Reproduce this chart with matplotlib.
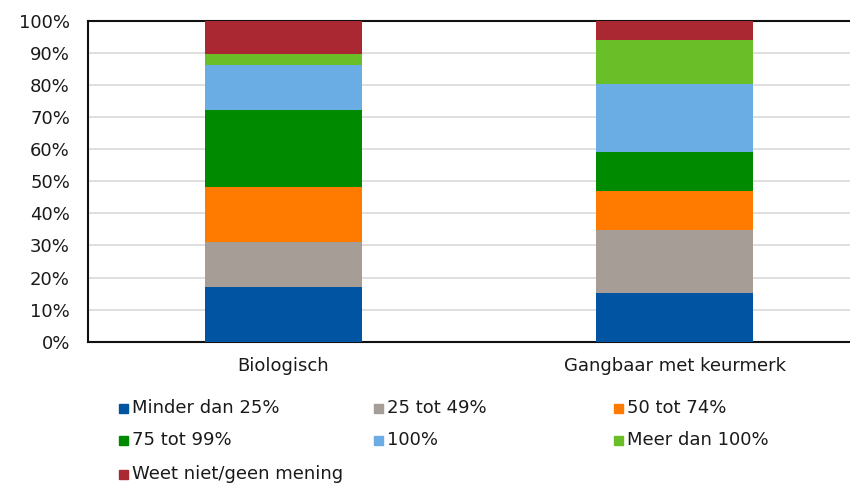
import matplotlib
matplotlib.use("Agg")
import matplotlib.pyplot as plt
import matplotlib.ticker as mtick
from matplotlib.patches import Rectangle

categories = ['Biologisch', 'Gangbaar met keurmerk']
series = ['Minder dan 25%', '25 tot 49%', '50 tot 74%', '75 tot 99%',
          '100%', 'Meer dan 100%', 'Weet niet/geen mening']
# share per answer, in %, one list per category
biologisch = [17.1, 13.9, 17.3, 24.0, 14.0, 3.4, 10.3]
gangbaar = [15.1, 19.8, 12.1, 12.1, 21.3, 13.7, 5.9]
colors = ['#0054A1', '#A59D96', '#FF7B00', '#008A00', '#6AADE4', '#6ABE28', '#AA2832']

plt.rcParams['font.family'] = ['DejaVu Sans']
fig = plt.figure(figsize=(8.5, 4.83), dpi=100)
ax = fig.add_axes([88 / 850, 1 - 341.7 / 483, 782 / 850, 320.7 / 483])

bottom = [0.0, 0.0]
for i, name in enumerate(series):
    vals = [biologisch[i] / 100, gangbaar[i] / 100]
    ax.bar(range(len(categories)), vals, 0.4, bottom=bottom, color=colors[i],
           label=name, zorder=3)
    bottom = [b + v for b, v in zip(bottom, vals)]

ax.set_xlim(-0.5, 1.5)
ax.set_ylim(0, 1)
ax.yaxis.set_major_locator(mtick.MultipleLocator(0.1))
ax.yaxis.set_major_formatter(mtick.PercentFormatter(xmax=1, decimals=0))
ax.set_xticks(range(len(categories)))
ax.set_xticklabels(categories)
ax.tick_params(axis='y', length=0, pad=13, labelsize=13, colors='#1a1a1a')
ax.tick_params(axis='x', length=0, pad=11, labelsize=13, colors='#1a1a1a')
ax.grid(axis='y', color='#D9D9D9', linewidth=1.2, zorder=0)
ax.spines['right'].set_visible(False)
for s in ('left', 'top', 'bottom'):
    ax.spines[s].set_color('#111111')
    ax.spines[s].set_linewidth(1.5)

# legend laid out in a fixed grid, row by row
col_x = [119, 374, 614]
row_y = [408, 440, 474]
for i, name in enumerate(series):
    r, c = divmod(i, 3)
    x, y = col_x[c], row_y[r]
    fig.patches.append(Rectangle(((x) / 850, 1 - (y + 5) / 483), 9 / 850, 9 / 483,
                                 transform=fig.transFigure, color=colors[i]))
    fig.text((x + 13) / 850, 1 - y / 483, name, fontsize=13, color='#1a1a1a',
             va='center', ha='left')

fig.savefig('out.png', dpi=100)
